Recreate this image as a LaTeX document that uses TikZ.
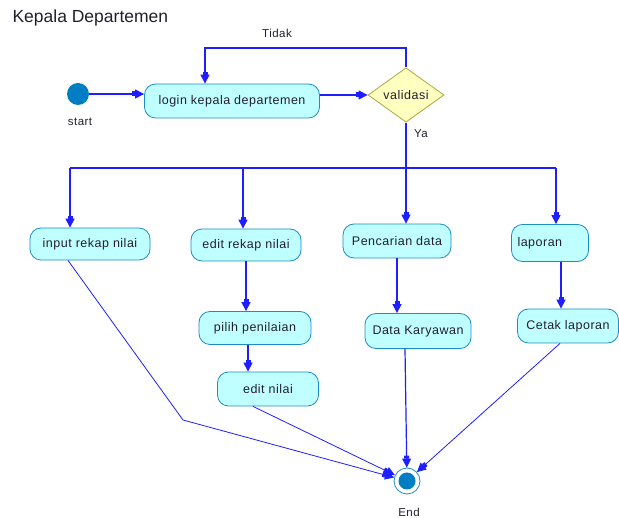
\documentclass[tikz,border=0pt]{standalone}
\usepackage{fontspec}
\setmainfont{Liberation Sans}
\newfontfamily\labfont[LetterSpace=4]{Liberation Sans}
\usetikzlibrary{shapes.geometric,arrows.meta}

\definecolor{actfill}{RGB}{192,255,255}
\definecolor{actdraw}{RGB}{30,140,200}
\definecolor{decfill}{RGB}{255,255,192}
\definecolor{decdraw}{RGB}{170,170,60}
\definecolor{flow}{RGB}{30,30,255}
\definecolor{dotfill}{RGB}{0,125,195}
\definecolor{txt}{RGB}{35,30,45}

\tikzset{
  act/.style={draw=actdraw, fill=actfill, rounded corners=11pt, line width=0.8pt,
    inner sep=0pt, font=\labfont\fontsize{12.5}{14}\selectfont, text=txt},
  decision/.style={diamond, draw=decdraw, fill=decfill, line width=0.8pt, inner sep=0pt,
    minimum width=76pt, minimum height=54pt, font=\labfont\fontsize{12.5}{14}\selectfont, text=txt},
  flowline/.style={draw=flow, line width=1.2pt},
  headtip/.style={-{Rectangle[length=3pt,width=5pt,sep=0pt]Triangle[length=9pt,width=9pt]}},
  flowarrow/.style={flowline, headtip},
  thinarrow/.style={draw=flow, line width=0.8pt, headtip},
  caption/.style={font=\labfont\fontsize{11.5}{13}\selectfont, text=txt},
}

\begin{document}
\begin{tikzpicture}[x=1pt,y=-1pt]
\useasboundingbox (0,0) rectangle (619,518);

% title
\node[anchor=west, font=\fontsize{17.5}{20}\selectfont, text=txt] (title) at (9,18) {Kepala Departemen};

% start and end states
\node[circle, fill=dotfill, minimum size=22pt, inner sep=0pt] (start) at (78,94) {};
\node[caption] (startlbl) at (80,122) {start};
\node[circle, draw=actdraw, fill=white, line width=0.8pt, minimum size=26pt, inner sep=0pt] (end) at (407,481) {};
\node[circle, fill=dotfill, minimum size=17pt, inner sep=0pt] (enddot) at (end) {};
\node[caption] (endlbl) at (409,512) {End};

% activities
\node[act, minimum width=175pt, minimum height=34pt] (login) at (232,101) {login kepala departemen};
\node[decision] (val) at (406,95) {validasi};
\node[act, minimum width=120pt, minimum height=32pt] (input) at (90,244) {input rekap nilai};
\node[act, minimum width=110pt, minimum height=32pt] (editrekap) at (246,245) {edit rekap nilai};
\node[act, minimum width=108pt, minimum height=34pt] (cari) at (397,241) {Pencarian data};
\node[act, minimum height=37pt, text width=65pt, inner xsep=6pt, align=left] (laporan) at (550,243) {laporan};
\node[act, minimum width=112pt, minimum height=33pt] (pilih) at (255,328) {pilih penilaian};
\node[act, minimum width=101pt, minimum height=34pt] (editnilai) at (268,389) {edit nilai};
\node[act, minimum width=106pt, minimum height=35pt] (datak) at (418,331) {Data Karyawan};
\node[act, minimum width=101pt, minimum height=34pt] (cetak) at (568,326) {Cetak laporan};

% guard labels
\node[caption] (tidak) at (277,33) {Tidak};
\node[caption] (ya) at (421,134) {Ya};

% routing points
\coordinate (loop) at (205,48);
\coordinate (fork) at (406,168);
\coordinate (f1) at (70,168);
\coordinate (f2) at (243,168);
\coordinate (f4) at (556,168);
\coordinate (knee) at (183,420);

% flows
\draw[flowarrow] (start.east) -- (start.east -| login.west);
\draw[flowarrow] (login.east |- val) -- (val.west);
\draw[flowarrow] (val.north) |- (loop) -- (loop |- login.north);
\draw[flowline] (val.south) -- (fork);
\draw[flowline] (f1) -- (f4);
\draw[flowarrow] (f1) -- (f1 |- input.north);
\draw[flowarrow] (f2) -- (f2 |- editrekap.north);
\draw[flowarrow] (fork) -- (fork |- cari.north);
\draw[flowarrow] (f4) -- (f4 |- laporan.north);
\draw[flowarrow] (cari.south) -- (cari.south |- datak.north);
\draw[flowarrow] ([xshift=11pt]laporan.south) -- ([xshift=11pt]laporan.south |- cetak.north);
\draw[flowarrow] (editrekap.south) -- (editrekap.south |- pilih.north);
\draw[flowarrow] ([xshift=-7pt]pilih.south) -- ([xshift=-7pt]pilih.south |- editnilai.north);

% flows into the final state
\draw[thinarrow] ([xshift=-22pt]input.south) -- (knee) -- (end);
\draw[thinarrow] ([xshift=-15pt]editnilai.south) -- (end);
\draw[flowarrow] ([xshift=-13pt]datak.south) -- (end);
\draw[thinarrow] ([xshift=-8pt]cetak.south) -- (end);
\end{tikzpicture}
\end{document}
